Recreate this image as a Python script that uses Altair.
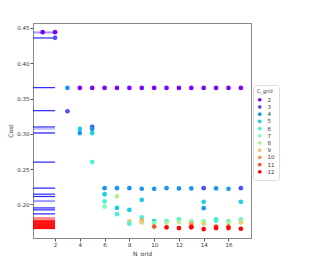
import altair as alt
import pandas as pd

# Scatter points: N_grid, C_grid, cost
n_grid = [1, 2, 2,
          3, 3,
          4, 4, 4,
          5, 5, 5, 5, 5,
          6, 6, 6, 6, 6,
          7, 7, 7, 7, 7,
          8, 8, 8, 8, 8,
          9, 9, 9, 9, 9, 9,
          10, 10, 10, 10, 10,
          11, 11, 11, 11, 11,
          12, 12, 12, 12, 12,
          13, 13, 13, 13, 13, 13,
          14, 14, 14, 14, 14, 14, 14,
          15, 15, 15, 15, 15, 15,
          16, 16, 16, 16, 16, 16,
          17, 17, 17, 17, 17, 17, 17]
c_grid = [2, 2, 3,
          4, 3,
          2, 5, 4,
          2, 3, 4, 5, 6,
          2, 4, 5, 6, 7,
          2, 4, 8, 5, 6,
          2, 4, 5, 9, 6,
          2, 4, 5, 6, 10, 9,
          2, 4, 5, 7, 11,
          2, 4, 6, 8, 12,
          2, 4, 6, 8, 12,
          2, 4, 7, 10, 11, 12,
          2, 3, 5, 4, 7, 9, 12,
          2, 4, 5, 6, 11, 12,
          2, 4, 6, 8, 11, 12,
          2, 3, 5, 6, 7, 9, 12]
cost = [0.444, 0.444, 0.436,
        0.365, 0.332,
        0.365, 0.307, 0.301,
        0.365, 0.310, 0.307, 0.301, 0.260,
        0.365, 0.223, 0.2145, 0.2043, 0.1968,
        0.365, 0.223, 0.2115, 0.195, 0.1862,
        0.365, 0.223, 0.1922, 0.176, 0.1727,
        0.365, 0.2222, 0.2064, 0.1816, 0.1769, 0.1745,
        0.365, 0.222, 0.1765, 0.174, 0.1686,
        0.365, 0.223, 0.1762, 0.174, 0.1675,
        0.365, 0.2226, 0.179, 0.175, 0.1665,
        0.365, 0.2226, 0.176, 0.1725, 0.169, 0.1675,
        0.365, 0.223, 0.2036, 0.1946, 0.176, 0.1725, 0.165,
        0.365, 0.2226, 0.1785, 0.177, 0.1685, 0.1665,
        0.365, 0.222, 0.176, 0.174, 0.1686, 0.1665,
        0.365, 0.223, 0.2036, 0.1785, 0.176, 0.1745, 0.1655]

# Reference cost levels drawn as horizontal segments
dark_blue_levels = [0.4358, 0.3654, 0.3328, 0.3097, 0.3012, 0.2599, 0.2230,
                    0.2145, 0.2112, 0.1950, 0.1922, 0.1866]
light_blue_levels = [0.4443, 0.4430, 0.3069, 0.3012, 0.2230, 0.2055, 0.2040, 0.1950]
light_red_levels = [0.1812, 0.1798, 0.1783]
red_levels = [0.1768, 0.1758, 0.1748, 0.1738, 0.1727,
              0.1716, 0.1705, 0.1695, 0.1685, 0.1675, 0.1665, 0.1658]

x_ticks = [2, 4, 6, 8, 10, 12, 14, 16]
y_ticks = [0.20, 0.25, 0.30, 0.35, 0.40, 0.45]

c_levels = list(range(2, 13))
rainbow = ["#8000ff", "#4d4ffc", "#1a96f2", "#1acee3", "#4df2ce", "#80ffb4",
           "#b3f296", "#e6ce74", "#ff964f", "#ff4f28", "#ff0000"]

x_dom = [0.22, 17.82]
y_dom = [0.1524, 0.457]

pts = pd.DataFrame({"N_grid": n_grid, "C_grid": c_grid, "Cost": cost})

xscale = alt.Scale(domain=x_dom, nice=False, zero=False)
yscale = alt.Scale(domain=y_dom, nice=False, zero=False)

axis_common = dict(labelFontSize=5.5, titleFontSize=6, labelColor="#333",
                   titleColor="#333", tickColor="#555", domainColor="#888",
                   grid=False, tickSize=3, labelFont="DejaVu Sans",
                   titleFont="DejaVu Sans", titleFontWeight="normal",
                   labelOverlap=False, titlePadding=3, labelPadding=1)
x_axis = alt.Axis(values=x_ticks, **axis_common)
y_axis = alt.Axis(values=y_ticks, format=".2f", **axis_common)


def seg_layer(levels, color, opacity):
    df = pd.DataFrame({"y": levels, "x0": [x_dom[0]] * len(levels),
                       "x1": [2] * len(levels)})
    return alt.Chart(df).mark_rule(strokeWidth=1.2, clip=True, color=color,
                                   opacity=opacity).encode(
        x=alt.X("x0:Q", scale=xscale, title="N_grid", axis=x_axis),
        x2="x1",
        y=alt.Y("y:Q", scale=yscale, title="Cost", axis=y_axis),
    )


lines_dark = seg_layer(dark_blue_levels, "#0000ff", 0.85)
lines_light = seg_layer(light_blue_levels, "#6666ff", 0.6)
lines_lred = seg_layer(light_red_levels, "#ff0000", 0.45)
lines_red = seg_layer(red_levels, "#ff0000", 0.9)

points = alt.Chart(pts).mark_circle(size=22, opacity=1).encode(
    x=alt.X("N_grid:Q", scale=xscale, title="N_grid", axis=x_axis),
    y=alt.Y("Cost:Q", scale=yscale, title="Cost", axis=y_axis),
    color=alt.Color("C_grid:O", scale=alt.Scale(domain=c_levels, range=rainbow),
                    title="C_grid",
                    legend=alt.Legend(orient="none", legendX=220, legendY=62,
                                      titleFontSize=5, labelFontSize=5.5,
                                      symbolSize=14, symbolType="circle",
                                      rowPadding=0.2, padding=4,
                                      strokeColor="#ddd", cornerRadius=2,
                                      fillColor="white", titleFontWeight="normal",
                                      labelColor="#333", titleColor="#333",
                                      labelFont="DejaVu Sans", titleFont="DejaVu Sans",
                                      symbolStrokeWidth=0, labelOffset=5,
                                      titlePadding=3)),
)

chart = alt.layer(lines_dark, lines_light, lines_lred, lines_red, points).properties(
    width=218, height=215,
    padding={"left": 25, "top": 15, "right": 60, "bottom": 18},
    autosize=alt.AutoSizeParams(type="none"),
).configure_view(stroke="#888", strokeWidth=1)

chart.save("out.html", embed_options={"renderer": "svg", "actions": False})
